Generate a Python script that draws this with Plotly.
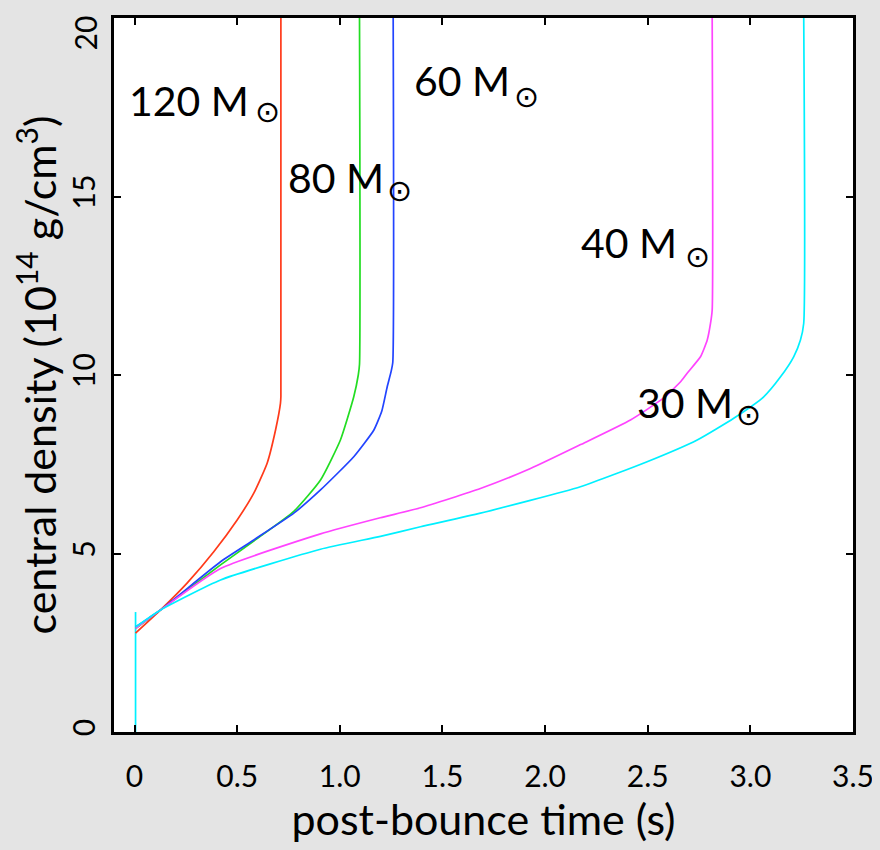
import plotly.graph_objects as go

# ---- data ----
t120 = [0.005, 0.127, 0.256, 0.386, 0.50, 0.581, 0.646, 0.687, 0.711, 0.713, 0.713]
r120 = [2.77, 3.42, 4.17, 5.05, 5.94, 6.69, 7.53, 8.46, 9.21, 9.4, 20.0]

t80 = [0.005, 0.127, 0.419, 0.581, 0.776, 0.906, 1.003, 1.068, 1.090, 1.096, 1.096]
r80 = [2.90, 3.42, 4.68, 5.35, 6.18, 7.06, 8.18, 9.39, 10.0, 10.3, 20.0]

t60 = [0.005, 0.127, 0.419, 0.581, 0.776, 0.906, 1.068, 1.166, 1.205, 1.231, 1.250, 1.258, 1.260]
r60 = [2.94, 3.42, 4.77, 5.38, 6.13, 6.78, 7.71, 8.46, 9.00, 9.67, 10.10, 10.35, 20.0]

t40 = [0.005, 0.127, 0.419, 0.906, 1.197, 1.393, 1.685, 1.929, 2.173, 2.416, 2.576,
       2.660, 2.692, 2.757, 2.790, 2.806, 2.814, 2.814]
r40 = [2.90, 3.42, 4.58, 5.55, 6.00, 6.28, 6.82, 7.38, 8.05, 8.74, 9.35,
       9.81, 10.05, 10.51, 10.98, 11.45, 11.82, 20.0]

t30_spike = [0.005, 0.005]
r30_spike = [0.0, 3.36]
t30 = [0.005, 0.127, 0.419, 0.906, 1.198, 1.393, 1.685, 2.172, 2.497,
       2.741, 2.919, 3.065, 3.147, 3.211, 3.244, 3.260, 3.260]
r30 = [2.94, 3.42, 4.26, 5.12, 5.48, 5.75, 6.13, 6.87, 7.57,
       8.18, 8.79, 9.39, 9.95, 10.51, 10.98, 11.45, 20.0]

series = [
    ("120", t120, r120, "#ff3a1a"),
    ("80", t80, r80, "#22dd22"),
    ("60", t60, r60, "#2244ff"),
    ("40", t40, r40, "#ff44ff"),
    ("30", t30, r30, "#00f0ff"),
]

# label positions (mass text right edge, symbol centre)
lab_mass = ["120", "60", "80", "40", "30"]
lab_x = [0.565, 1.841, 1.223, 2.650, 2.927]
lab_y = [17.7, 18.26, 15.52, 13.70, 9.24]
sun_x = [0.648, 1.909, 1.291, 2.742, 2.991]
sun_y = [17.37, 17.79, 15.18, 13.33, 8.88]

xtick_vals = [0, 0.5, 1.0, 1.5, 2.0, 2.5, 3.0, 3.5]
xtick_text = ["0", "0.5", "1.0", "1.5", "2.0", "2.5", "3.0", "3.5"]
ytick_vals = [0, 5, 10, 15, 20]
ytick_text = ["0", "5", "10", "15", ""]   # top label drawn separately (sits below its tick)
ytop_label = "20"

FONT = "Lato"

fig = go.Figure()
fig.add_trace(go.Scatter(x=t30_spike, y=r30_spike, mode="lines", showlegend=False,
                         line=dict(color="#00f0ff", width=1.7)))
for name, tx, ry, col in series:
    fig.add_trace(go.Scatter(x=tx, y=ry, mode="lines", name=name + " Msun",
                             line=dict(color=col, width=1.7, shape="spline", smoothing=0.5),
                             showlegend=False))

for m, lx, ly, sx, sy in zip(lab_mass, lab_x, lab_y, sun_x, sun_y):
    fig.add_annotation(x=lx, y=ly, text=m + " M", showarrow=False,
                       xanchor="right", yanchor="middle",
                       font=dict(family=FONT, size=41, color="black"))
    fig.add_annotation(x=sx, y=sy, text="⊙", showarrow=False,
                       xanchor="center", yanchor="middle",
                       font=dict(family="DejaVu Sans", size=30, color="black"))

# top y tick label, rotated like the others
fig.add_annotation(xref="paper", x=0, yref="y", y=ytick_vals[-1], text=ytop_label,
                   showarrow=False, textangle=-90, xanchor="right", yanchor="top",
                   xshift=-10, yshift=4, font=dict(family=FONT, size=30, color="black"))

axis_common = dict(showline=True, linecolor="black", linewidth=2.5, mirror="ticks",
                   ticks="inside", ticklen=7, tickwidth=2, tickcolor="black",
                   showgrid=False, zeroline=False, automargin=False,
                   ticklabeloverflow="allow")

fig.update_xaxes(range=[-0.1, 3.5], tickvals=xtick_vals, ticktext=xtick_text,
                 tickfont=dict(family=FONT, size=30, color="black"),
                 ticklabelstandoff=16,
                 title=dict(text="post-bounce time (s)",
                            font=dict(family=FONT, size=43, color="black"),
                            standoff=6),
                 **axis_common)
fig.update_yaxes(range=[0, 20], tickvals=ytick_vals, ticktext=ytick_text,
                 tickfont=dict(family=FONT, size=30, color="black"),
                 tickangle=-90, ticklabelstandoff=4,
                 title=dict(text="central density (10<sup>14</sup> g/cm<sup>3</sup>)",
                            font=dict(family=FONT, size=43, color="black"),
                            standoff=4),
                 **axis_common)

# the page body has an 8px margin, so the figure is 8px smaller and offset
fig.update_layout(width=872, height=842,
                  margin=dict(l=106, r=27, t=10, b=118),
                  paper_bgcolor="#e4e4e4", plot_bgcolor="white")

fig.write_html("out.html",
               post_script="document.body.style.background='#e4e4e4';")
